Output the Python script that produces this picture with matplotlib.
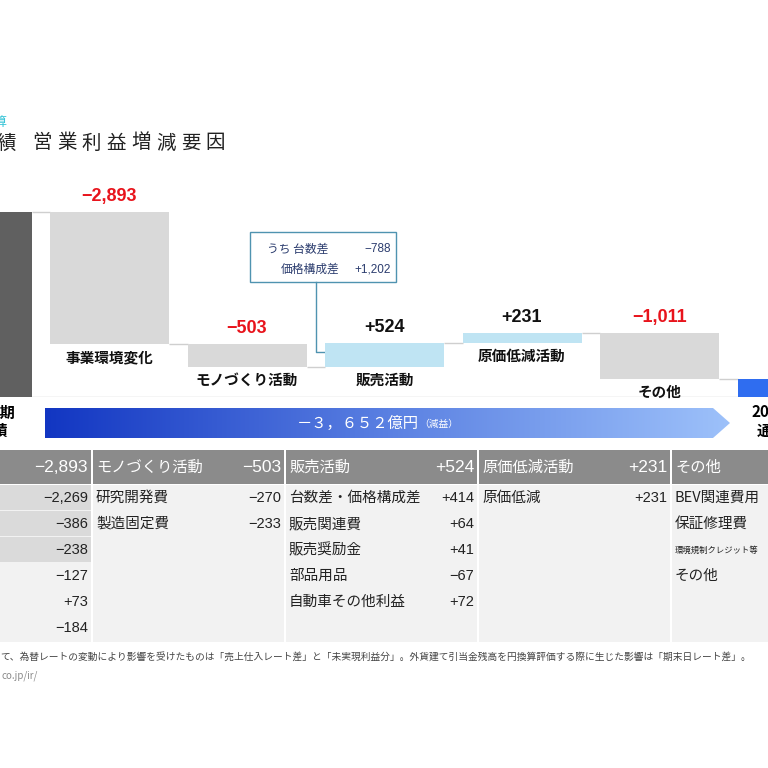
"""Operating profit waterfall (営業利益増減要因) with breakdown table"""

import numpy as np
import matplotlib.pyplot as plt
from matplotlib.patches import Rectangle, Polygon

plt.rcParams['font.family'] = ['Noto Sans CJK JP', 'DejaVu Sans']
NUM = ['Liberation Sans', 'DejaVu Sans']

# waterfall values (億円)
start_value = 4052
end_value = 400
steps = ["事業環境変化", "モノづくり活動", "販売活動", "原価低減活動", "その他"]
deltas = [-2893, -503, 524, 231, -1011]
total_label = "－３，６５２億円"
total_note = "（減益）"

callout_names = ["うち 台数差", "価格構成差"]
callout_values = ["−788", "+1,202"]

# breakdown table
head_names = ["", "モノづくり活動", "販売活動", "原価低減活動", "その他"]
head_values = ["−2,893", "−503", "+524", "+231", ""]
col_items = [
    ["", "", "", "", "", ""],
    ["研究開発費", "製造固定費"],
    ["台数差・価格構成差", "販売関連費", "販売奨励金", "部品用品", "自動車その他利益"],
    ["原価低減"],
    ["BEV関連費用", "保証修理費", "環境規制クレジット等", "その他"],
]
col_values = [
    ["−2,269", "−386", "−238", "−127", "+73", "−184"],
    ["−270", "−233"],
    ["+414", "+64", "+41", "−67", "+72"],
    ["+231"],
    [],
]

footnote = ("て、為替レートの変動により影響を受けたものは「売上仕入レート差」と「未実現利益分」。"
            "外貨建て引当金残高を円換算評価する際に生じた影響は「期末日レート差」。")

W = 768
fig = plt.figure(figsize=(7.68, 7.68), dpi=100)
lay = fig.add_axes([0, 0, 1, 1])
lay.set_xlim(0, W)
lay.set_ylim(W, 0)
lay.axis('off')

# title
lay.text(8, 122, "決算", color="#33c3d6", fontsize=9, ha='right', va='center')
lay.text(-3, 143, "績", fontsize=14, ha='left', va='center', color="#222222")
for k, ch in enumerate("営業利益増減要因"):
    lay.text(32 + 24.8 * k, 143, ch, fontsize=14, ha='left', va='center',
             color="#222222")

# ---- waterfall ----
px_per = 0.04565
top_px, base_px = 170, 397
wf = fig.add_axes([0, (W - base_px) / W, 1, (base_px - top_px) / W])
wf.set_ylim(0, (base_px - top_px) / px_per)
wf.set_xlim(28 / 137.5, 796 / 137.5)
wf.axis('off')
wf.patch.set_alpha(0)

bw = 119 / 137.5
n = len(deltas)
wf.bar(0, start_value, width=bw, color="#606060", zorder=2)
wf.bar(n + 1, end_value, width=bw, color="#2f6df0", zorder=2)

level = start_value
levels = [level]
for i, d in enumerate(deltas, start=1):
    lo = min(level, level + d)
    col = "#bfe4f3" if d > 0 else "#d9d9d9"
    wf.bar(i, abs(d), bottom=lo, width=bw, color=col, zorder=2)
    hi = max(level, level + d)
    wf.annotate(f"{d:+,}".replace('-', '−'), (i, hi), xytext=(0, 5),
                textcoords='offset points', ha='center', va='bottom',
                fontsize=13, fontweight='bold', family=NUM,
                color="#e8141c" if d < 0 else "#111111")
    wf.annotate(steps[i - 1], (i, lo), xytext=(0, -9.4),
                textcoords='offset points', ha='center', va='center',
                fontsize=10.5, fontweight='bold', color="#111111", zorder=4)
    level += d
    levels.append(level)

for i, lv in enumerate(levels):
    wf.hlines(lv, i + bw / 2, i + 1 - bw / 2, color="#cfcfcf", lw=1, zorder=1)
wf.axhline(0, color="#d0d0d0", lw=1, zorder=1)

# callout box for 販売活動
lay.add_patch(Rectangle((250, 232), 146, 50, fill=False, ec="#4f93b0", lw=1))
lay.plot([316, 316, 325], [282, 352, 352], color="#4f93b0", lw=1)
lay.text(267, 249, callout_names[0], fontsize=8.5, color="#2b3c6e", ha='left', va='center')
lay.text(340, 269, callout_names[1], fontsize=8.5, color="#2b3c6e", ha='right', va='center')
for yy, v in zip([249, 269], callout_values):
    lay.text(391, yy, v, fontsize=8.5, color="#2b3c6e", ha='right', va='center', family=NUM)

# ---- total arrow ----
arrow = Polygon([(45, 408), (713, 408), (730, 423), (713, 438), (45, 438)],
                closed=True, fc='none', ec='none')
lay.add_patch(arrow)
grad = np.linspace(0, 1, 256).reshape(1, -1)
from matplotlib.colors import LinearSegmentedColormap
cmap = LinearSegmentedColormap.from_list("arr", ["#1236c2", "#5a80e2", "#9dc1fa"])
img = lay.imshow(grad, cmap=cmap, extent=[45, 730, 438, 408], aspect='auto', zorder=1)
img.set_clip_path(arrow)
lay.set_xlim(0, W)
lay.set_ylim(W, 0)
lay.text(297, 423, total_label, fontsize=11, color='white', ha='left', va='center', zorder=3)
lay.text(419, 424, total_note, fontsize=7, color='white', ha='left', va='center', zorder=3)

lay.text(15, 413, "2024年度上期", fontsize=11, fontweight='bold', ha='right', va='center')
lay.text(8, 431, "実績", fontsize=11, fontweight='bold', ha='right', va='center')
lay.text(752, 412, "2025年度", fontsize=11, fontweight='bold', ha='left', va='center')
lay.text(757, 431, "通期見通し", fontsize=11, fontweight='bold', ha='left', va='center')

# ---- breakdown table ----
cols = [(-10, 91), (93, 284), (286, 477), (479, 670), (672, 790)]
head_top, head_bot, body_bot = 450, 484, 642
row_h = 26
for c, (x0, x1) in enumerate(cols):
    lay.add_patch(Rectangle((x0, head_top), x1 - x0, head_bot - head_top,
                            fc="#8b8b8b", ec='none'))
    lay.add_patch(Rectangle((x0, head_bot + 1), x1 - x0, body_bot - head_bot - 1,
                            fc="#f2f2f2", ec='none'))
    hy = (head_top + head_bot) / 2
    lay.text(x0 + 3, hy, head_names[c], fontsize=11, color='white', ha='left', va='center')
    lay.text(x1 - 3, hy, head_values[c], fontsize=12.5, color='white', ha='right',
             va='center', family=NUM)
    for r, name in enumerate(col_items[c]):
        ry = head_bot + 1 + row_h * r
        if c == 0 and r < 3:
            lay.add_patch(Rectangle((x0, ry), x1 - x0, row_h - 1.5, fc="#dadada", ec='none'))
        fs = 6 if len(name) > 9 else 10.5
        lay.text(x0 + 3, ry + row_h / 2, name, fontsize=fs, color="#222222",
                 ha='left', va='center')
    for r, v in enumerate(col_values[c]):
        ry = head_bot + 1 + row_h * r
        lay.text(x1 - 3, ry + row_h / 2, v, fontsize=10.5, color="#222222",
                 ha='right', va='center', family=NUM)

lay.text(0, 657, footnote, fontsize=7, color="#444444", ha='left', va='center')
lay.text(38, 676, "co.jp/ir/", fontsize=7, color="#8a8a8a", ha='right', va='center')

fig.savefig("out.png", dpi=100)
